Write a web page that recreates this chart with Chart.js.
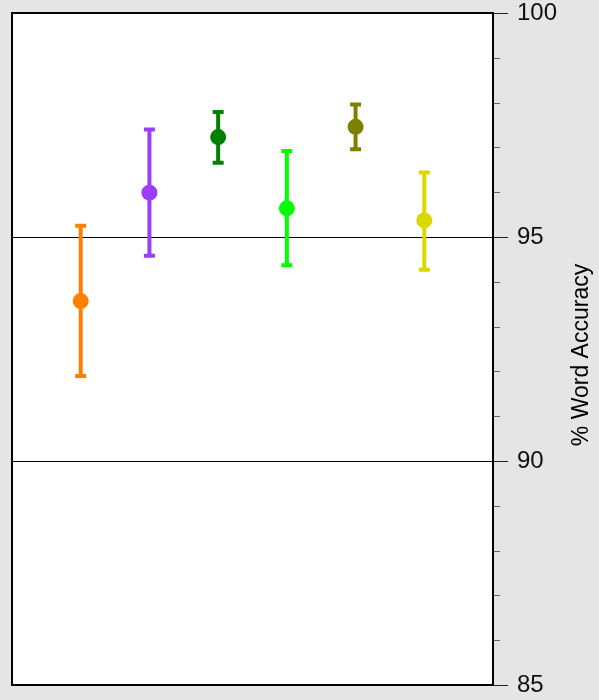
<!DOCTYPE html>
<html>
<head>
    <title>Word Accuracy</title>
    <script src="https://cdn.jsdelivr.net/npm/chart.js"></script>
    <style>
      body { margin: 0; background: #e5e5e5; }
    </style>
</head>
<body>
<canvas id="accChart" width="599" height="700"></canvas>

<script>
    // values
    const positions = [1, 2, 3, 4, 5, 6];
    const means = [93.57, 95.99, 97.23, 95.64, 97.46, 95.37];
    const lows  = [91.90, 94.58, 96.66, 94.37, 96.96, 94.27];
    const highs = [95.25, 97.40, 97.79, 96.92, 97.96, 96.44];
    const colors = ['#ff8000', '#9b3cff', '#008000', '#00ff00', '#808000', '#d9d900'];
    const yTitle = '% Word Accuracy';

    const FONT = '"Liberation Sans", Arial, sans-serif';

    const extras = {
      id: 'extras',
      beforeDraw(chart) {
        const {ctx, chartArea: a} = chart;
        ctx.save();
        ctx.fillStyle = '#fff';
        ctx.fillRect(a.left, a.top, a.width, a.height);
        ctx.restore();
      },
      beforeDatasetsDraw(chart) {
        // error bars with caps
        const {ctx, scales: {x, y}} = chart;
        ctx.save();
        ctx.lineCap = 'butt';
        positions.forEach((p, i) => {
          const px = x.getPixelForValue(p);
          const top = y.getPixelForValue(highs[i]);
          const bot = y.getPixelForValue(lows[i]);
          ctx.strokeStyle = colors[i];
          ctx.lineWidth = 4;
          ctx.beginPath();
          ctx.moveTo(px, top);
          ctx.lineTo(px, bot);
          ctx.stroke();
          ctx.beginPath();
          ctx.moveTo(px - 5.5, top); ctx.lineTo(px + 5.5, top);
          ctx.moveTo(px - 5.5, bot); ctx.lineTo(px + 5.5, bot);
          ctx.stroke();
        });
        ctx.restore();
      },
      afterDraw(chart) {
        const {ctx, chartArea: a, scales: {y}} = chart;
        ctx.save();
        // tick marks outside the right edge
        y.ticks.forEach(t => {
          const py = Math.round(y.getPixelForValue(t.value)) + 0.5;
          const major = t.value % 5 === 0;
          ctx.strokeStyle = major ? '#222' : '#666';
          ctx.lineWidth = 1;
          ctx.beginPath();
          ctx.moveTo(a.right, py);
          ctx.lineTo(a.right + (major ? 15 : 7), py);
          ctx.stroke();
        });
        // frame
        ctx.strokeStyle = '#000';
        ctx.lineWidth = 2;
        ctx.strokeRect(a.left, a.top, a.width, a.height);
        // axis title, reading bottom to top
        ctx.translate(582, 355);
        ctx.rotate(-Math.PI / 2);
        ctx.fillStyle = '#000';
        ctx.font = '23px ' + FONT;
        ctx.textAlign = 'center';
        ctx.textBaseline = 'middle';
        ctx.fillText(yTitle, 0, 0);
        ctx.restore();
      }
    };

    new Chart(document.getElementById('accChart').getContext('2d'), {
      type: 'scatter',
      data: {
        datasets: [{
          data: positions.map((p, i) => ({x: p, y: means[i]})),
          backgroundColor: colors,
          borderColor: colors,
          pointRadius: 8,
          pointHoverRadius: 8,
          borderWidth: 0
        }]
      },
      options: {
        responsive: false,
        animation: false,
        events: [],
        layout: { padding: { left: 12, top: 13, bottom: 15, right: 0 } },
        plugins: { legend: { display: false }, tooltip: { enabled: false } },
        scales: {
          x: { type: 'linear', min: 0, max: 7, display: false },
          y: {
            type: 'linear',
            position: 'right',
            min: 85,
            max: 100,
            border: { display: false },
            grid: {
              drawTicks: false,
              lineWidth: 1,
              color: c => (c.tick && (c.tick.value === 90 || c.tick.value === 95)) ? '#000' : 'rgba(0,0,0,0)'
            },
            ticks: {
              stepSize: 1,
              autoSkip: false,
              padding: 24,
              color: '#111',
              font: { family: FONT, size: 24 },
              callback: v => (v % 5 === 0 ? v : '')
            },
            afterFit(scale) {
              scale.width = 106;
              scale.paddingTop = 0;
              scale.paddingBottom = 0;
            }
          }
        }
      },
      plugins: [extras]
    });
</script>
</body>
</html>
